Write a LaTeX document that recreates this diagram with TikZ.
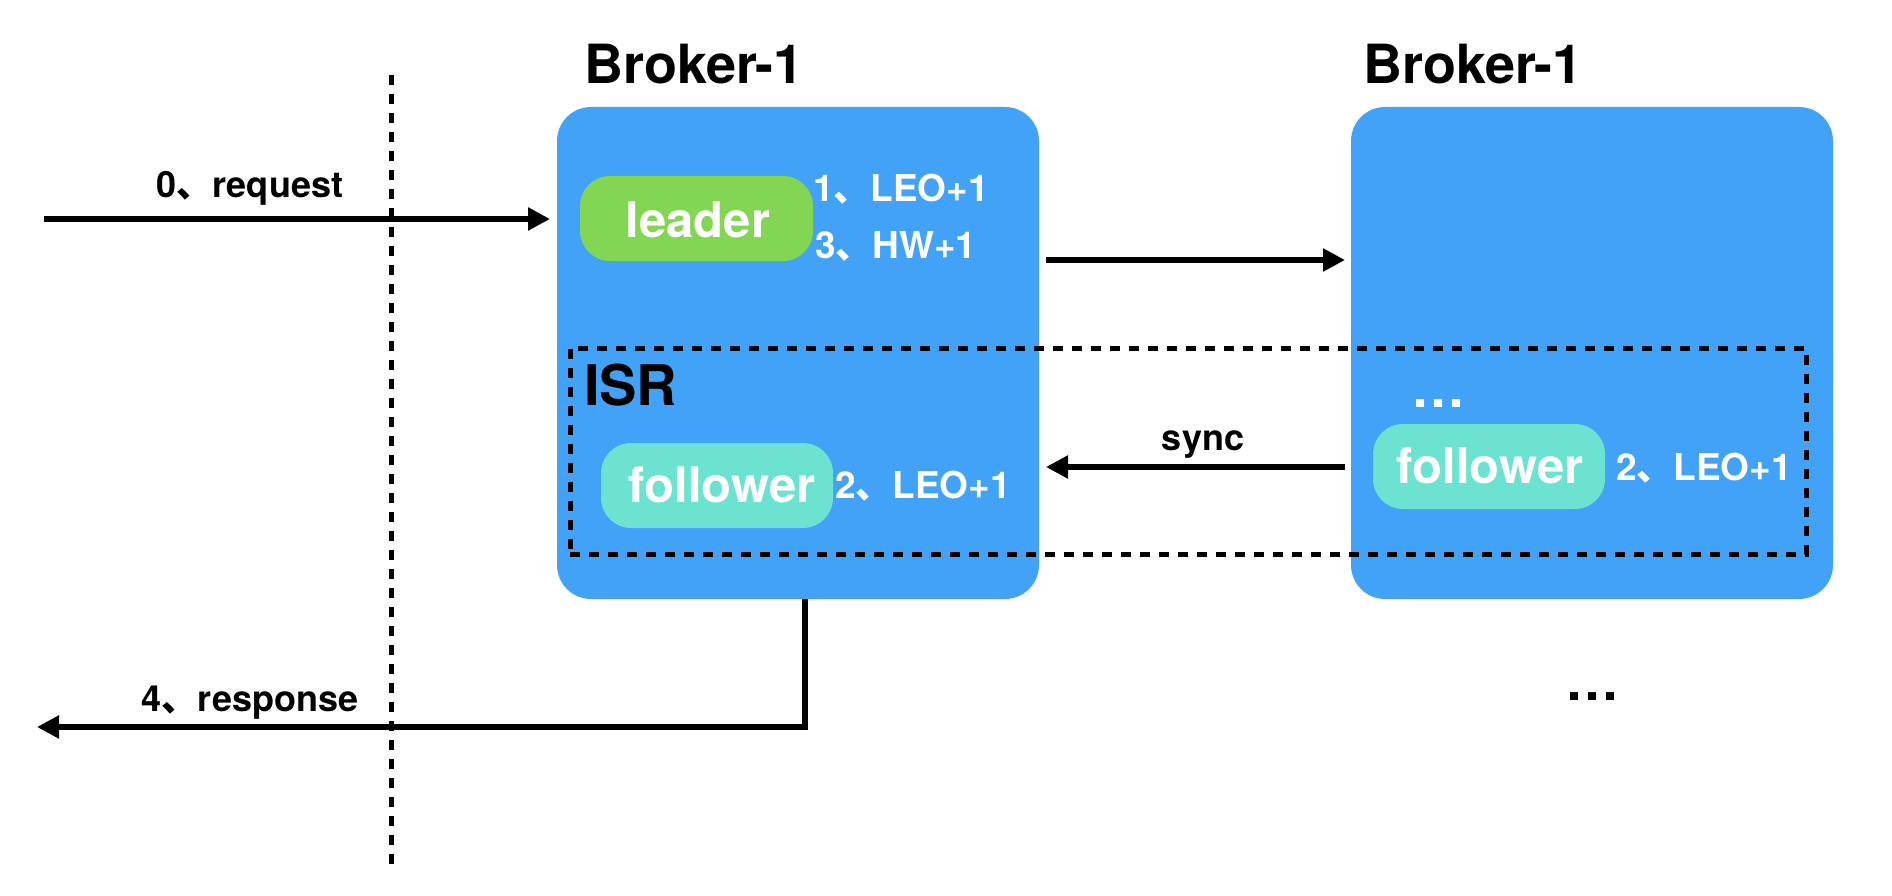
\documentclass[tikz,border=0pt]{standalone}
\usepackage{fontspec}
\setmainfont{TeX Gyre Heros}
\newfontfamily\cjk{Noto Sans CJK SC}
\usetikzlibrary{arrows.meta}
\definecolor{brokerblue}{RGB}{65,162,248}
\definecolor{leadergreen}{RGB}{131,214,83}
\definecolor{followerteal}{RGB}{108,227,208}
\newcommand\dun{{\cjk 、}}
\tikzset{
  broker/.style={fill=brokerblue, rounded corners=34pt},
  pill/.style={rounded corners=30pt},
  txt/.style={inner sep=0pt, outer sep=0pt},
  big/.style={txt, font=\fontsize{54}{60}\selectfont\bfseries},
  pilltxt/.style={txt, text=white, font=\fontsize{49}{54}\selectfont\bfseries},
  steptxt/.style={txt, text=white, font=\fontsize{37}{40}\selectfont\bfseries},
  lbl/.style={txt, font=\fontsize{36}{40}\selectfont\bfseries},
  dotline/.style={line width=5pt, dash pattern=on 10pt off 9pt},
  arr/.style={line width=5.3pt, -{Triangle[length=22pt,width=22pt]}},
  plain/.style={line width=5.3pt}
}
\begin{document}
\begin{tikzpicture}[x=1pt,y=-1pt]
\useasboundingbox (0,0) rectangle (1892,896);
% broker boxes
\node[broker, minimum width=482pt, minimum height=492pt, inner sep=0pt] (boxL) at (798,353) {};
\node[broker, minimum width=482pt, minimum height=492pt, inner sep=0pt] (boxR) at (1592,353) {};
\node[big, anchor=base] (titleL) at (694,84) {Broker-1};
\node[big, anchor=base] (titleR) at (1473,84) {Broker-1};
% leader
\node[pill, fill=leadergreen, minimum width=233pt, minimum height=85pt, inner sep=0pt] (leader) at (696.5,218.5) {};
\node[pilltxt, anchor=base] (leadertxt) at (698,237) {leader};
\node[steptxt, anchor=base west] (s1) at (813,202) {1\dun LEO+1};
\node[steptxt, anchor=base west] (s3) at (815,258) {3\dun HW+1};
% followers
\node[pill, fill=followerteal, minimum width=232pt, minimum height=85pt, inner sep=0pt] (folL) at (717,485.5) {};
\node[pilltxt, anchor=base] (folLtxt) at (722,502) {follower};
\node[steptxt, anchor=base west] (s2L) at (835,498) {2\dun LEO+1};
\node[pill, fill=followerteal, minimum width=232pt, minimum height=85pt, inner sep=0pt] (folR) at (1489,466.5) {};
\node[pilltxt, anchor=base] (folRtxt) at (1490,483) {follower};
\node[steptxt, anchor=base west] (s2R) at (1616,480) {2\dun LEO+1};
\node[txt, anchor=base, text=white, font=\fontsize{54}{56}\selectfont\bfseries] (dotsR) at (1438,407) {…};
% ISR dashed box
\node[dotline, draw=black, minimum width=1236pt, minimum height=206pt, inner sep=0pt] (isr) at (1188,451) {};
\node[txt, anchor=base west, font=\fontsize{56}{60}\selectfont\bfseries] (isrtxt) at (584,405) {ISR};
% dotted vertical separator
\coordinate (septop) at (391,75);
\coordinate (sepbot) at (391,871);
\draw[dotline] (septop) -- (sepbot);
% request
\coordinate (reqs) at (44,219);
\coordinate (reqe) at (550,219);
\draw[arr] (reqs) -- (reqe);
\node[lbl, anchor=base] (reqlbl) at (250,198) {0\dun request};
% leader -> broker 2
\coordinate (ms) at (1046,260);
\coordinate (me) at (1345,260);
\draw[arr] (ms) -- (me);
% sync
\coordinate (ss) at (1345,467);
\coordinate (se) at (1046,467);
\draw[arr] (ss) -- (se);
\node[lbl, anchor=base] (synclbl) at (1203,450) {sync};
% response
\coordinate (rtop) at (805,599);
\coordinate (rend) at (37,727);
\draw[arr] (rtop) |- (rend);
\node[lbl, anchor=base] (resplbl) at (250,711) {4\dun response};
% trailing dots
\node[txt, anchor=base, font=\fontsize{54}{56}\selectfont\bfseries] (dotsB) at (1592,700) {…};
\end{tikzpicture}
\end{document}
